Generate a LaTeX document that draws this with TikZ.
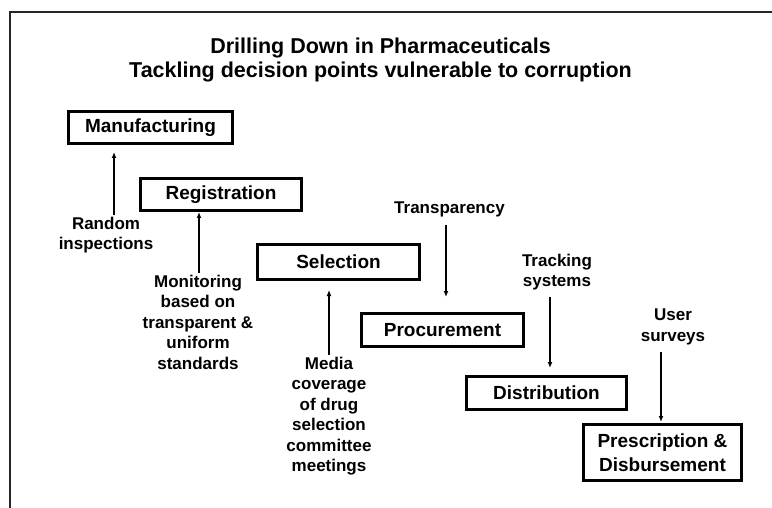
\documentclass[tikz,border=0pt]{standalone}
\usepackage{fontspec}
\setmainfont{Liberation Sans}
\usetikzlibrary{arrows.meta}
\tikzset{
  stagebox/.style={draw=black, line width=3pt, inner sep=0pt, align=center,
    font=\bfseries\fontsize{19}{24}\selectfont},
  annot/.style={inner sep=0pt, align=center, anchor=base,
    font=\bfseries\fontsize{17}{20.5}\selectfont},
  arr/.style={line width=1.3pt, -{Latex[length=6pt,width=5pt]}},
  frameline/.style={line width=2pt, draw=black!85}
}
\begin{document}
\begin{tikzpicture}[x=1pt,y=-1pt]
\useasboundingbox (0,0) rectangle (772,508);
\draw[frameline] (10,508) -- (10,12) -- (772,12);

\node[inner sep=0pt, align=center, anchor=base, font=\bfseries\fontsize{21.5}{24}\selectfont] (title) at (380.5,77.5)
  {Drilling Down in Pharmaceuticals\\Tackling decision points vulnerable to corruption};

\node[stagebox, minimum width=164pt, minimum height=32pt] (manu) at (150.5,127.5) {Manufacturing};
\node[stagebox, minimum width=161pt, minimum height=32pt] (regi) at (221,194.5) {Registration};
\node[stagebox, minimum width=162pt, minimum height=34pt] (sele) at (338.5,262) {Selection};
\node[stagebox, minimum width=162pt, minimum height=33pt] (proc) at (442.5,330) {Procurement};
\node[stagebox, minimum width=160pt, minimum height=33pt] (dist) at (546.5,393) {Distribution};
\node[stagebox, minimum width=158pt, minimum height=56pt] (pres) at (662.5,452.5) {Prescription \&\\Disbursement};

\node[annot] (rand) at (106,250) {Random\\inspections};
\node[annot] (moni) at (198,369) {Monitoring\\based on\\transparent \&\\uniform\\standards};
\node[annot] (medi) at (329,471.5) {Media\\coverage\\of drug\\selection\\committee\\meetings};
\node[annot] (tran) at (449.5,214) {Transparency};
\node[annot] (trac) at (557,287) {Tracking\\systems};
\node[annot] (user) at (673,341) {User\\surveys};

\coordinate (randS) at (114,215);   \coordinate (randT) at (114,152);
\coordinate (moniS) at (199,273);   \coordinate (moniT) at (199,212);
\coordinate (mediS) at (329,355);   \coordinate (mediT) at (329,290);
\coordinate (tranS) at (446,225);   \coordinate (tranT) at (446,297);
\coordinate (tracS) at (550,297);   \coordinate (tracT) at (550,368);
\coordinate (userS) at (661,352);   \coordinate (userT) at (661,422);

\draw[arr] (randS) -- (randT);
\draw[arr] (moniS) -- (moniT);
\draw[arr] (mediS) -- (mediT);
\draw[arr] (tranS) -- (tranT);
\draw[arr] (tracS) -- (tracT);
\draw[arr] (userS) -- (userT);
\end{tikzpicture}
\end{document}
